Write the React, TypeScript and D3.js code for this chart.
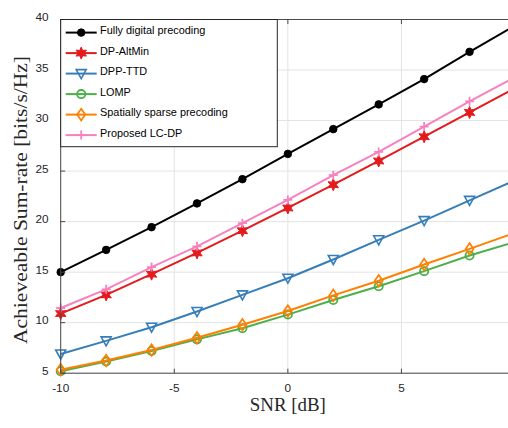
import React from 'react';
import * as d3 from 'd3';

// SNR sweep (dB)
const snr = [-10, -8, -6, -4, -2, 0, 2, 4, 6, 8, 10];

// Achievable sum-rate per scheme (bits/s/Hz)
const fullyDigital = [15, 17.2, 19.45, 21.8, 24.2, 26.7, 29.15, 31.6, 34.1, 36.8, 39.4];
const dpAltMin = [10.9, 12.75, 14.8, 16.9, 19.1, 21.35, 23.65, 26.0, 28.4, 30.8, 33.2];
const dppTtd = [6.9, 8.2, 9.55, 11.1, 12.75, 14.4, 16.25, 18.2, 20.1, 22.1, 24.1];
const lomp = [5.2, 6.15, 7.2, 8.35, 9.45, 10.8, 12.25, 13.6, 15.1, 16.65, 18.0];
const spatiallySparse = [5.35, 6.25, 7.3, 8.5, 9.8, 11.15, 12.7, 14.15, 15.75, 17.3, 18.9];
const proposedLcDp = [11.45, 13.3, 15.5, 17.55, 19.85, 22.15, 24.6, 26.9, 29.4, 31.9, 34.3];

const seriesNames = [
  'Fully digital precoding',
  'DP-AltMin',
  'DPP-TTD',
  'LOMP',
  'Spatially sparse precoding',
  'Proposed LC-DP',
];

const xTicks = [-10, -5, 0, 5, 10];
const yTicks = [5, 10, 15, 20, 25, 30, 35, 40];

type MarkerKind = 'dot' | 'hexagram' | 'triangleDown' | 'circle' | 'diamond' | 'plus';

const seriesStyle: { color: string; marker: MarkerKind }[] = [
  { color: '#000000', marker: 'dot' },
  { color: '#e41a1c', marker: 'hexagram' },
  { color: '#377eb8', marker: 'triangleDown' },
  { color: '#4daf4a', marker: 'circle' },
  { color: '#ff7f00', marker: 'diamond' },
  { color: '#f781bf', marker: 'plus' },
];

const seriesValues = [fullyDigital, dpAltMin, dppTtd, lomp, spatiallySparse, proposedLcDp];

const W = 508;
const H = 428;
const plot = { left: 60.7, right: 515, top: 19.5, bottom: 373.2 };

const x = d3.scaleLinear().domain([-10, 10]).range([plot.left, plot.right]);
const y = d3.scaleLinear().domain([5, 40]).range([plot.bottom, plot.top]);

function hexagramPath(R: number) {
  const r = R * 0.5;
  const pts: [number, number][] = [];
  for (let i = 0; i < 12; i++) {
    const a = -Math.PI / 2 + (i * Math.PI) / 6;
    const rad = i % 2 === 0 ? R : r;
    pts.push([rad * Math.cos(a), rad * Math.sin(a)]);
  }
  return 'M' + pts.map((p) => p.join(',')).join('L') + 'Z';
}

function Marker({ kind, color, cx, cy }: { kind: MarkerKind; color: string; cx: number; cy: number }) {
  const t = `translate(${cx},${cy})`;
  switch (kind) {
    case 'dot':
      return <circle cx={cx} cy={cy} r={3.8} fill={color} stroke={color} strokeWidth={0.8} />;
    case 'hexagram':
      return <path transform={t} d={hexagramPath(6)} fill={color} stroke={color} strokeWidth={1} strokeLinejoin="miter" />;
    case 'triangleDown':
      return <path transform={t} d="M-5,-4L5,-4L0,5Z" fill="none" stroke={color} strokeWidth={1.6} strokeLinejoin="miter" />;
    case 'circle':
      return <circle cx={cx} cy={cy} r={4.1} fill="none" stroke={color} strokeWidth={1.8} />;
    case 'diamond':
      return <path transform={t} d="M0,-5.8L4,0L0,5.8L-4,0Z" fill="none" stroke={color} strokeWidth={1.7} />;
    case 'plus':
      return <path transform={t} d="M-4.5,0H4.5M0,-4.5V4.5" fill="none" stroke={color} strokeWidth={1.8} />;
  }
  return null;
}

export default function App() {
  const line = d3
    .line<number>()
    .x((_, i) => x(snr[i]))
    .y((d) => y(d));

  const tickLen = 4.5;
  const axisColor = '#4a4a4a';
  const gridColor = '#e3e3e3';
  const sans = '"Liberation Sans", Arial, Helvetica, sans-serif';
  const serif = '"Liberation Serif", "Times New Roman", serif';

  const legend = { x0: plot.left, y0: plot.top, x1: 277.3, y1: 146.7 };
  const legendRows = [32.6, 53.1, 73.6, 94.1, 114.6, 135.1];

  return (
    <svg
      width={W}
      height={H}
      viewBox={`0 0 ${W} ${H}`}
      style={{ position: 'absolute', left: 0, top: 0, background: '#fff' }}
    >
      <rect x={0} y={0} width={W} height={H} fill="#fff" />

      {/* grid */}
      {xTicks.map((t) => (
        <line key={`gx${t}`} x1={x(t)} x2={x(t)} y1={plot.top} y2={plot.bottom} stroke={gridColor} strokeWidth={1} />
      ))}
      {yTicks.map((t) => (
        <line key={`gy${t}`} x1={plot.left} x2={plot.right} y1={y(t)} y2={y(t)} stroke={gridColor} strokeWidth={1} />
      ))}

      {/* series */}
      {seriesValues.map((vals, si) => (
        <g key={`s${si}`}>
          <path d={line(vals) || ''} fill="none" stroke={seriesStyle[si].color} strokeWidth={2} strokeLinejoin="round" />
          {vals.map((v, i) => (
            <Marker key={i} kind={seriesStyle[si].marker} color={seriesStyle[si].color} cx={x(snr[i])} cy={y(v)} />
          ))}
        </g>
      ))}

      {/* axes box and ticks */}
      <rect
        x={plot.left}
        y={plot.top}
        width={plot.right - plot.left}
        height={plot.bottom - plot.top}
        fill="none"
        stroke={axisColor}
        strokeWidth={1}
      />
      {xTicks.map((t) => (
        <g key={`tx${t}`}>
          <line x1={x(t)} x2={x(t)} y1={plot.bottom} y2={plot.bottom - tickLen} stroke={axisColor} />
          <line x1={x(t)} x2={x(t)} y1={plot.top} y2={plot.top + tickLen} stroke={axisColor} />
          <text x={x(t)} y={392} textAnchor="middle" fontFamily={sans} fontSize={11.8} fill="#262626">
            {t}
          </text>
        </g>
      ))}
      {yTicks.map((t) => (
        <g key={`ty${t}`}>
          <line x1={plot.left} x2={plot.left + tickLen} y1={y(t)} y2={y(t)} stroke={axisColor} />
          <line x1={plot.right} x2={plot.right - tickLen} y1={y(t)} y2={y(t)} stroke={axisColor} />
          <text x={48.5} y={y(t) + 1.5} textAnchor="end" fontFamily={sans} fontSize={11.8} fill="#262626">
            {t}
          </text>
        </g>
      ))}

      {/* axis titles */}
      <text
        x={x(0)}
        y={411}
        textAnchor="middle"
        fontFamily={serif}
        fontSize={18}
        fill="#262626"
        textLength={76}
        lengthAdjust="spacingAndGlyphs"
      >
        SNR [dB]
      </text>
      <text
        transform={`translate(27,200) rotate(-90)`}
        textAnchor="middle"
        fontFamily={serif}
        fontSize={18}
        fill="#262626"
        textLength={288}
        lengthAdjust="spacingAndGlyphs"
      >
        Achieveable Sum-rate [bits/s/Hz]
      </text>

      {/* legend */}
      <rect
        x={legend.x0}
        y={legend.y0}
        width={legend.x1 - legend.x0}
        height={legend.y1 - legend.y0}
        fill="#fff"
        stroke="#262626"
        strokeWidth={1}
      />
      {seriesNames.map((name, i) => (
        <g key={`lg${i}`}>
          <line x1={65.7} x2={96.7} y1={legendRows[i]} y2={legendRows[i]} stroke={seriesStyle[i].color} strokeWidth={2} />
          <Marker kind={seriesStyle[i].marker} color={seriesStyle[i].color} cx={81.2} cy={legendRows[i]} />
          <text x={100} y={legendRows[i] + 1.8} fontFamily={sans} fontSize={10.9} fill="#000">
            {name}
          </text>
        </g>
      ))}
    </svg>
  );
}
